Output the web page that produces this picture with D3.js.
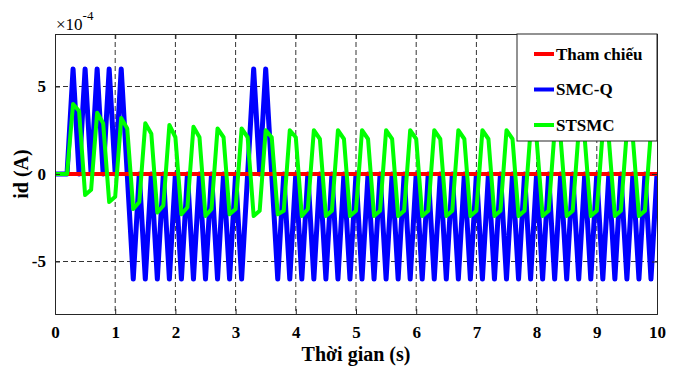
<!DOCTYPE html>
<html>
<head>
<meta charset="utf-8">
<script src="https://cdn.jsdelivr.net/npm/d3@7"></script>
<style>
  body { margin: 0; background: #fff; }
  svg text { font-family: 'Liberation Serif', 'DejaVu Serif', serif !important; }
</style>
</head>
<body>
<div id="chart"></div>
<script>
// sample instants (s)
var time = [0,0.1,0.2,0.3,0.4,0.5,0.6,0.7,0.8,0.9,1,1.1,1.2,1.3,1.4,1.5,1.6,1.7,1.8,1.9,
	2,2.1,2.2,2.3,2.4,2.5,2.6,2.7,2.8,2.9,3,3.1,3.2,3.3,3.4,3.5,3.6,3.7,3.8,3.9,
	4,4.1,4.2,4.3,4.4,4.5,4.6,4.7,4.8,4.9,5,5.1,5.2,5.3,5.4,5.5,5.6,5.7,5.8,5.9,
	6,6.1,6.2,6.3,6.4,6.5,6.6,6.7,6.8,6.9,7,7.1,7.2,7.3,7.4,7.5,7.6,7.7,7.8,7.9,
	8,8.1,8.2,8.3,8.4,8.5,8.6,8.7,8.8,8.9,9,9.1,9.2,9.3,9.4,9.5,9.6,9.7,9.8,9.9,10];

// id values, x1e-4 A
var thamChieu = [0,0,0,0,0,0,0,0,0,0, 0,0,0,0,0,0,0,0,0,0, 0,0,0,0,0,0,0,0,0,0,
	0,0,0,0,0,0,0,0,0,0, 0,0,0,0,0,0,0,0,0,0, 0,0,0,0,0,0,0,0,0,0,
	0,0,0,0,0,0,0,0,0,0, 0,0,0,0,0,0,0,0,0,0, 0,0,0,0,0,0,0,0,0,0,
	0,0,0,0,0,0,0,0,0,0, 0];

var smcQ = [0,0,0,6,0,6,0,6,0,6, 0,6,0,-6,0,-6,0,-6,0,-6, 0,-6,0,-6,0,-6,0,-6,0,-6,
	0,-6,0,6,0,6,0,-6,0,-6, 0,-6,0,-6,0,-6,0,-6,0,-6, 0,-6,0,-6,0,-6,0,-6,0,-6,
	0,-6,0,-6,0,-6,0,-6,0,-6, 0,-6,0,-6,0,-6,0,-6,0,-6, 0,-6,0,-6,0,-6,0,-6,0,-6,
	0,-6,0,-6,0,-6,0,-6,0,-6, 0];

var stsmc = [0,0,0,4.0,3.6,-1.2,-0.9,3.5,2.9,-1.6,
	-1.3,3.2,2.6,-2.0,-1.6,2.9,2.3,-2.2,-1.8,2.8,
	2.1,-2.3,-1.9,2.7,2.1,-2.4,-2.0,2.6,2.1,-2.3,
	-2.0,2.6,2.1,-2.4,-2.1,2.5,2.1,-2.3,-2.1,2.5,
	2.1,-2.4,-2.0,2.5,2.0,-2.4,-2.1,2.5,2.0,-2.4,
	-2.1,2.5,2.0,-2.4,-2.1,2.5,2.0,-2.4,-2.1,2.5,
	2.0,-2.4,-2.1,2.5,2.0,-2.4,-2.1,2.5,2.0,-2.4,
	-2.1,2.5,2.0,-2.4,-2.1,2.5,2.0,-2.4,-2.1,2.5,
	2.0,-2.4,-2.1,2.5,2.0,-2.4,-2.1,2.5,2.0,-2.4,
	-2.1,2.5,2.0,-2.4,-2.1,2.5,2.0,-2.4,-2.1,2.5,
	2.0];

var xTicks = [0,1,2,3,4,5,6,7,8,9,10];
var yTicks = [-5,0,5];
var seriesNames = ['Tham chiếu', 'SMC-Q', 'STSMC'];
var seriesColors = ['#ff0000', '#0000ff', '#00ff00'];

var svgWidth = 682;
var svgHeight = 367;
var margin = {top: 34, right: 25, bottom: 53, left: 55};
var w = svgWidth - margin.left - margin.right;
var h = svgHeight - margin.top - margin.bottom;

var svg = d3.select('#chart').append('svg')
	.attr('width', svgWidth)
	.attr('height', svgHeight);

var g = svg.append('g')
	.attr('transform', 'translate(' + margin.left + ',' + margin.top + ')');

var x = d3.scaleLinear().domain([0, 10]).range([0, w]);
var y = d3.scaleLinear().domain([-8, 8]).range([h, 0]);

g.append('defs').append('clipPath').attr('id', 'clip')
	.append('rect').attr('width', w).attr('height', h);

// grid
g.selectAll('.vgrid').data(xTicks.slice(1, -1)).enter().append('line')
	.attr('x1', function(d) { return x(d); }).attr('x2', function(d) { return x(d); })
	.attr('y1', 0).attr('y2', h)
	.style('stroke', '#333').style('stroke-width', 1).style('stroke-dasharray', '5,3');
g.selectAll('.hgrid').data(yTicks).enter().append('line')
	.attr('y1', function(d) { return y(d); }).attr('y2', function(d) { return y(d); })
	.attr('x1', 0).attr('x2', w)
	.style('stroke', '#333').style('stroke-width', 1).style('stroke-dasharray', '5,3');

// series
function rows(vals) {
	return time.map(function(t, i) { return {t: t, v: vals[i]}; });
}
var line = d3.line().x(function(d) { return x(d.t); }).y(function(d) { return y(d.v); });

var plot = g.append('g').attr('clip-path', 'url(#clip)');
plot.append('path').datum(rows(smcQ)).attr('d', line)
	.style('fill', 'none').style('stroke', seriesColors[1]).style('stroke-width', 5)
	.style('stroke-linejoin', 'round');
plot.append('path').datum(rows(thamChieu)).attr('d', line)
	.style('fill', 'none').style('stroke', seriesColors[0]).style('stroke-width', 4);
plot.append('path').datum(rows(stsmc)).attr('d', line)
	.style('fill', 'none').style('stroke', seriesColors[2]).style('stroke-width', 4)
	.style('stroke-linejoin', 'round');

// axes
var fmt = function(d) { return String(d); };
g.append('g').attr('transform', 'translate(0,' + h + ')')
	.call(d3.axisBottom(x).tickValues(xTicks).tickSize(-5).tickPadding(12).tickFormat(fmt));
g.append('g')
	.call(d3.axisLeft(y).tickValues(yTicks).tickSize(-5).tickPadding(9).tickFormat(fmt));
g.append('g').call(d3.axisTop(x).tickValues(xTicks).tickSize(-5).tickFormat(''));
g.append('g').attr('transform', 'translate(' + w + ',0)')
	.call(d3.axisRight(y).tickValues(yTicks).tickSize(-5).tickFormat(''));
g.selectAll('.domain, .tick line').style('stroke', '#262626');
g.selectAll('.tick text')
	.style('font-weight', 'bold').style('font-size', '17px').style('fill', '#000');

// exponent
var expo = svg.append('text').attr('x', 56).attr('y', 30).style('font-size', '17px');
expo.append('tspan').text('×10');
expo.append('tspan').attr('dy', -10).style('font-size', '13px').text('-4');

// labels
svg.append('text')
	.attr('x', margin.left + w / 2).attr('y', 361)
	.style('text-anchor', 'middle').style('font-weight', 'bold').style('font-size', '20px')
	.text('Thời gian (s)');
svg.append('text')
	.attr('transform', 'translate(28,' + (margin.top + h / 2) + ') rotate(-90)')
	.style('text-anchor', 'middle').style('font-weight', 'bold').style('font-size', '20px')
	.text('id (A)');

// legend
var lg = g.append('g').attr('transform', 'translate(' + (w - 140) + ',0)');
lg.append('rect').attr('width', 140).attr('height', 107)
	.style('fill', '#fff').style('stroke', '#262626').style('stroke-width', 1);
var item = lg.selectAll('.legend').data(seriesNames).enter().append('g')
	.attr('transform', function(d, i) { return 'translate(17,' + (20 + i * 35.5) + ')'; });
item.append('line').attr('x1', 0).attr('x2', 20)
	.style('stroke', function(d, i) { return seriesColors[i]; }).style('stroke-width', 4);
item.append('text').attr('x', 22).attr('dy', '0.35em')
	.style('font-weight', 'bold').style('font-size', '17px')
	.text(function(d) { return d; });
</script>
</body>
</html>
